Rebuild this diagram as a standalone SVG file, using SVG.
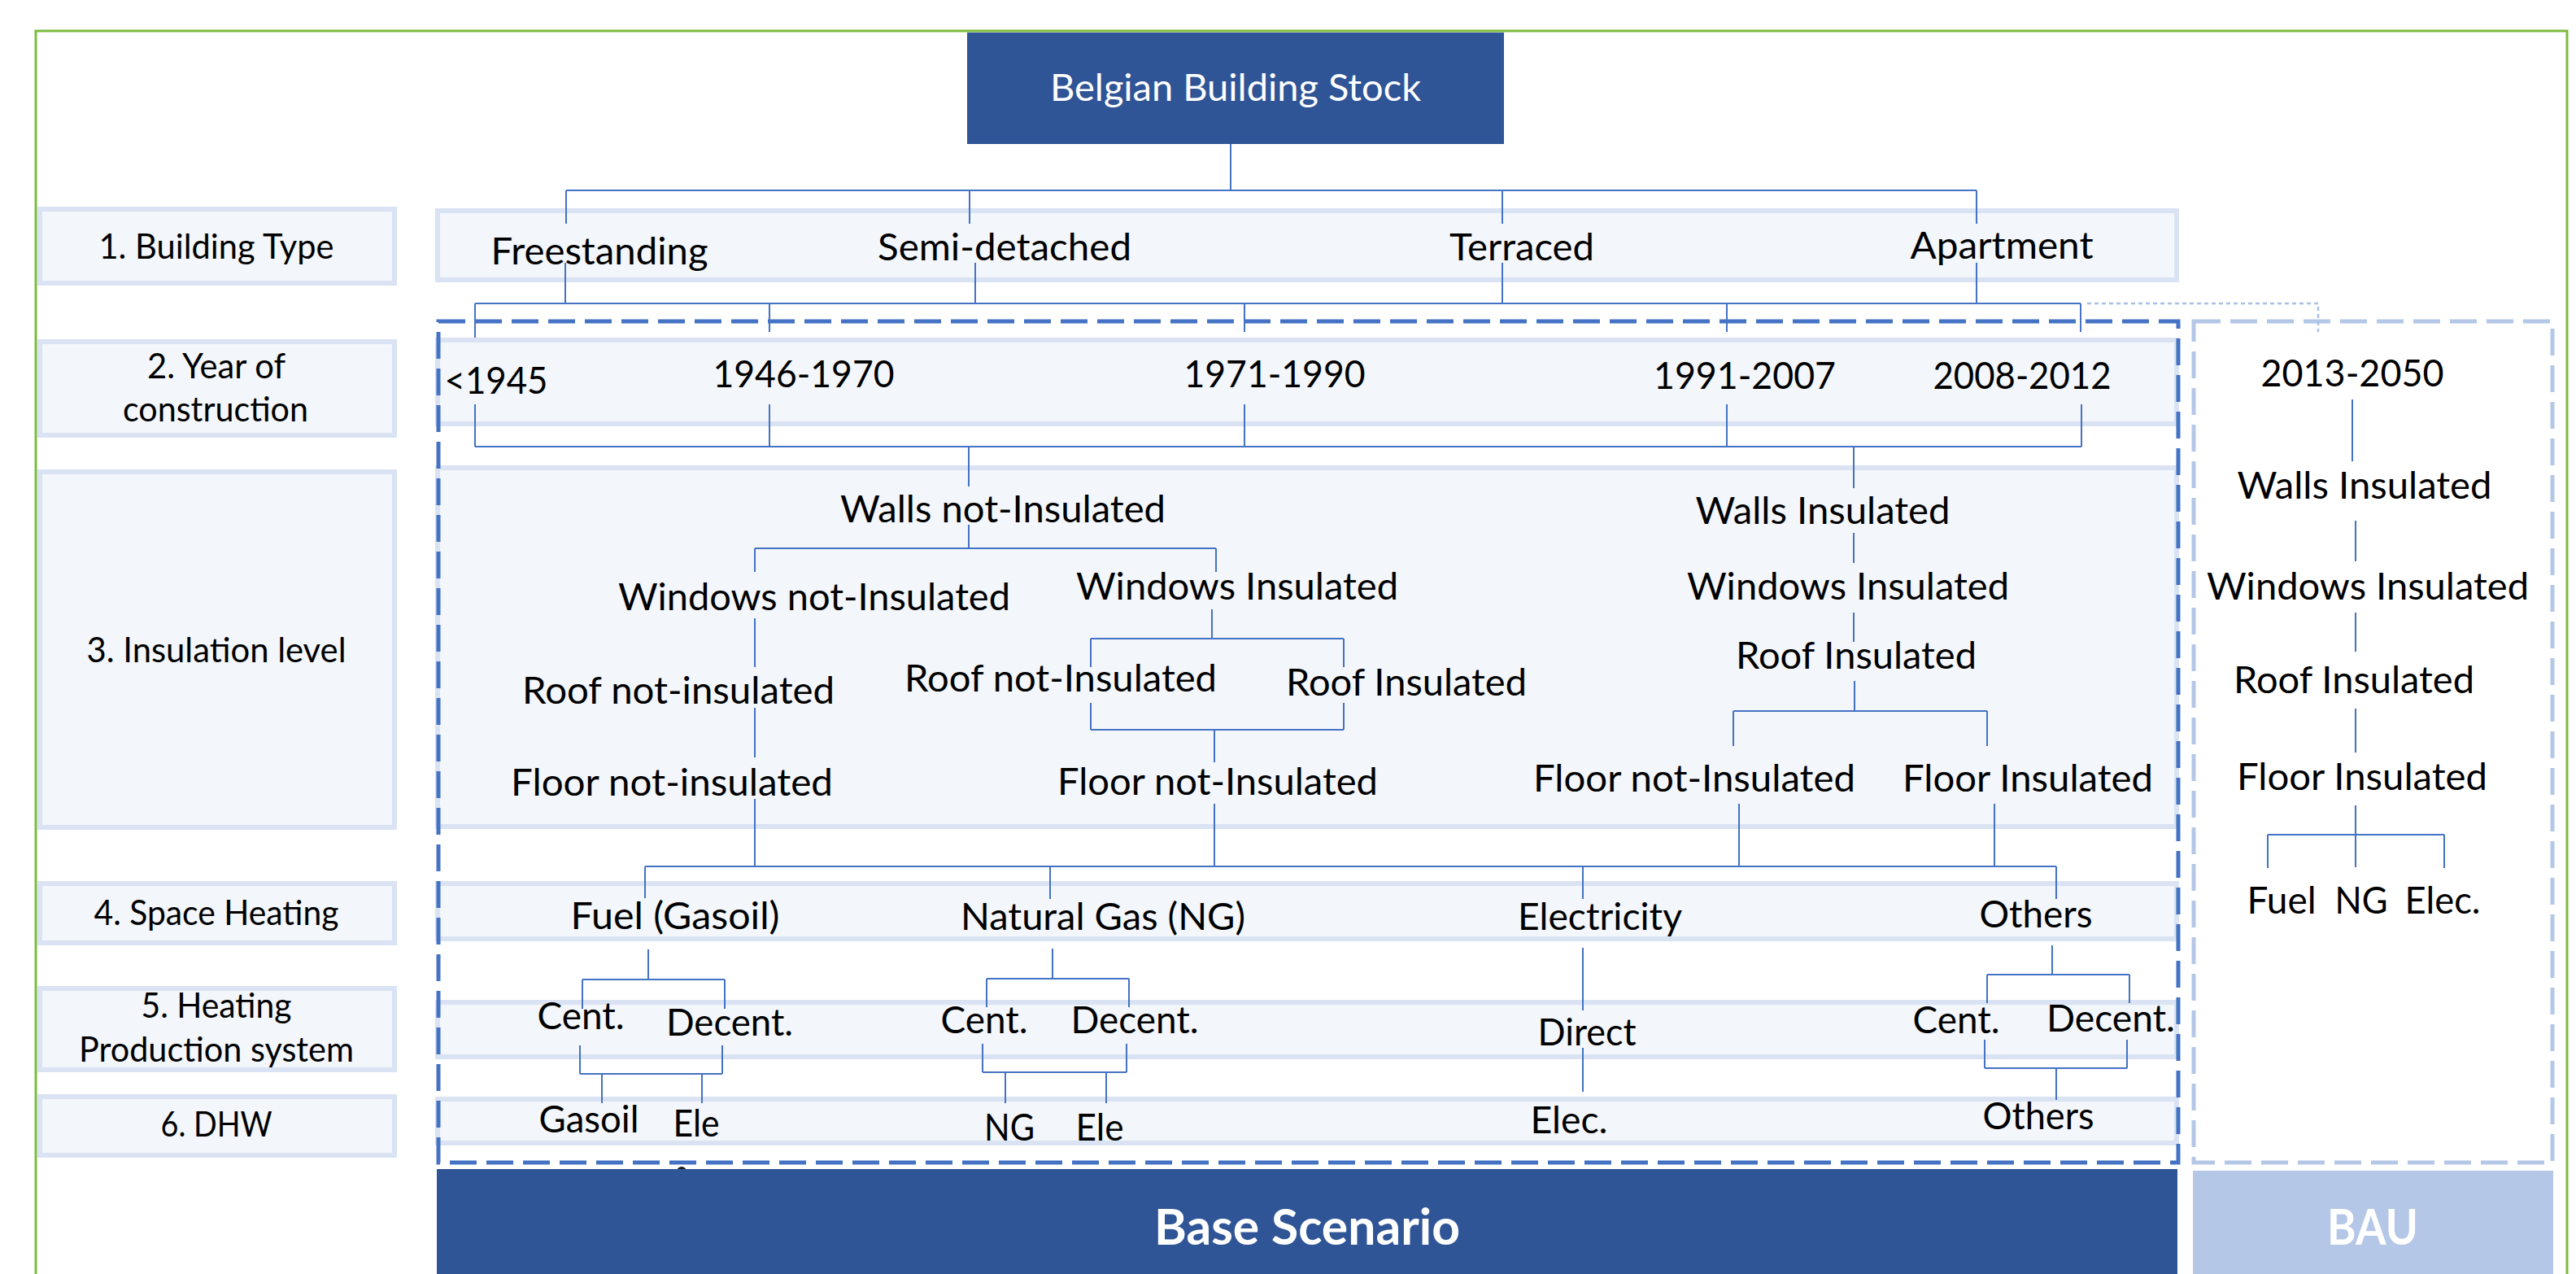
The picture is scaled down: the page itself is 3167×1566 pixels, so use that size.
<svg xmlns="http://www.w3.org/2000/svg" width="3167" height="1566" viewBox="0 0 3167 1566">
<style>
.band{fill:#f3f6fa;stroke:#dae3f3;stroke-width:6}
.c{stroke:#4472c4;stroke-width:2;fill:none}
.t{font-family:Lato,"Open Sans",sans-serif;font-size:47px;fill:#000;text-anchor:middle}
.lb{font-family:Lato,"Open Sans",sans-serif;font-size:42px;fill:#000;text-anchor:middle}
.big{font-family:Lato,"Open Sans",sans-serif;font-size:62px;font-weight:bold;fill:#fff;text-anchor:middle}
</style>
<rect x="0" y="0" width="3167" height="1566" fill="#fff"/>
<rect id="frame" x="44" y="38" width="3112" height="1600" fill="none" stroke="#7cbb3f" stroke-width="3"/>

<g id="bands">
<rect class="band" x="538" y="259" width="2138" height="85"/>
<rect class="band" x="538" y="418" width="2138" height="103"/>
<rect class="band" x="538" y="575" width="2138" height="441"/>
<rect class="band" x="538" y="1086" width="2138" height="68"/>
<rect class="band" x="538" y="1232" width="2138" height="67"/>
<rect class="band" x="538" y="1351" width="2138" height="54"/>
</g>

<g id="level-labels">
<g id="lbl1"><rect class="band" x="49" y="257" width="436" height="91"/><text class="lb" x="266" y="318" textLength="289" lengthAdjust="spacingAndGlyphs">1. Building Type</text></g>
<g id="lbl2"><rect class="band" x="49" y="420" width="436" height="115"/><text class="lb" x="266" y="465" textLength="170" lengthAdjust="spacingAndGlyphs">2. Year of</text><text class="lb" x="265" y="518" textLength="228" lengthAdjust="spacingAndGlyphs">construction</text></g>
<g id="lbl3"><rect class="band" x="49" y="580" width="436" height="437"/><text class="lb" x="266" y="814" textLength="319" lengthAdjust="spacingAndGlyphs">3. Insulation level</text></g>
<g id="lbl4"><rect class="band" x="49" y="1086" width="436" height="73"/><text class="lb" x="266" y="1137" textLength="301" lengthAdjust="spacingAndGlyphs">4. Space Heating</text></g>
<g id="lbl5"><rect class="band" x="49" y="1215" width="436" height="100"/><text class="lb" x="266" y="1251" textLength="185" lengthAdjust="spacingAndGlyphs">5. Heating</text><text class="lb" x="266" y="1305" textLength="338" lengthAdjust="spacingAndGlyphs">Production system</text></g>
<g id="lbl6"><rect class="band" x="49" y="1348" width="436" height="72"/><text class="lb" x="266" y="1397" textLength="137" lengthAdjust="spacingAndGlyphs">6. DHW</text></g>
</g>

<g id="scenario-frames">
<rect id="base-frame" x="539" y="395" width="2139" height="1034" fill="none" stroke="#4472c4" stroke-width="5" stroke-dasharray="33 12"/>
<rect id="bau-frame" x="2697" y="395" width="441" height="1034" fill="none" stroke="#b4c7e7" stroke-width="5" stroke-dasharray="33 12"/>
</g>

<g id="connectors">
<path class="c" d="M1513 177V234M696 234H2430M696 234V275M1192 234V275M1847 234V275M2430 234V275"/>
<path class="c" d="M695 323V373M1199 323V373M1847 323V373M2430 323V373M584 373H2558M584 373V415M946 373V408M1530 373V408M2123 373V408M2558 373V408"/>
<path d="M2566 373H2850V408" fill="none" stroke="#a9bfe4" stroke-width="2.5" stroke-dasharray="5 4"/>
<path class="c" d="M584 497V549M946 497V549M1530 497V549M2123 497V549M2559 497V549M584 549H2559M1191 549V598M2279 549V600M2892 491V567"/>
<path class="c" d="M1191 645V674M928 674H1495M928 674V703M1495 674V703M928 760V820M928 870V931M928 982V1065"/>
<path class="c" d="M1490 749V785M1341 785H1652M1341 785V820M1652 785V820M1341 864V897M1652 864V897M1341 897H1652M1493 897V937M1493 988V1065"/>
<path class="c" d="M2279 655V692M2279 753V789M2280 837V874M2131 874H2443M2131 874V917M2443 874V917M2138 988V1065M2452 988V1065"/>
<path class="c" d="M2896 640V690M2896 753V801M2896 871V925M2896 990V1066M2788 1026H3005M2788 1026V1067M3005 1026V1067"/>
<path class="c" d="M793 1065H2528M793 1065V1104M1291 1065V1105M1946 1065V1105M2528 1065V1105"/>
<path class="c" d="M797 1167V1204M716 1204H891M716 1204V1240M891 1204V1240M713 1285V1320M888 1285V1320M713 1320H888M740 1320V1356M863 1320V1356"/>
<path class="c" d="M1294 1166V1203M1213 1203H1388M1213 1203V1238M1388 1203V1238M1208 1283V1318M1385 1283V1318M1208 1318H1385M1236 1318V1356M1360 1318V1356"/>
<path class="c" d="M1946 1165V1242M1946 1288V1342"/>
<path class="c" d="M2523 1162V1198M2443 1198H2618M2443 1198V1233M2618 1198V1233M2440 1278V1313M2615 1278V1313M2440 1313H2615M2528 1313V1352"/>
</g>

<g id="n-root"><rect x="1189" y="40" width="660" height="137" fill="#2f5597"/><text class="t" x="1519" y="124" style="fill:#fff" textLength="456" lengthAdjust="spacingAndGlyphs">Belgian Building Stock</text></g>

<g id="building-types">
<g id="n-free"><text class="t" x="737" y="325" textLength="267" lengthAdjust="spacingAndGlyphs">Freestanding</text></g>
<g id="n-semi"><text class="t" x="1235" y="320" textLength="312" lengthAdjust="spacingAndGlyphs">Semi-detached</text></g>
<g id="n-terr"><text class="t" x="1871" y="320" textLength="178" lengthAdjust="spacingAndGlyphs">Terraced</text></g>
<g id="n-apt"><text class="t" x="2461" y="318" textLength="225" lengthAdjust="spacingAndGlyphs">Apartment</text></g>
</g>

<g id="years">
<g id="n-y1"><text class="t" x="610" y="484" textLength="127" lengthAdjust="spacingAndGlyphs">&lt;1945</text></g>
<g id="n-y2"><text class="t" x="988" y="476" textLength="223" lengthAdjust="spacingAndGlyphs">1946-1970</text></g>
<g id="n-y3"><text class="t" x="1567" y="476" textLength="223" lengthAdjust="spacingAndGlyphs">1971-1990</text></g>
<g id="n-y4"><text class="t" x="2145" y="478" textLength="224" lengthAdjust="spacingAndGlyphs">1991-2007</text></g>
<g id="n-y5"><text class="t" x="2486" y="478" textLength="219" lengthAdjust="spacingAndGlyphs">2008-2012</text></g>
<g id="n-y6"><text class="t" x="2892" y="475" textLength="225" lengthAdjust="spacingAndGlyphs">2013-2050</text></g>
</g>

<g id="insulation">
<g id="n-wallsN"><text class="t" x="1233" y="642" textLength="400" lengthAdjust="spacingAndGlyphs">Walls not-Insulated</text></g>
<g id="n-winN"><text class="t" x="1001" y="750" textLength="482" lengthAdjust="spacingAndGlyphs">Windows not-Insulated</text></g>
<g id="n-winI1"><text class="t" x="1521" y="737" textLength="396" lengthAdjust="spacingAndGlyphs">Windows Insulated</text></g>
<g id="n-roofN1"><text class="t" x="834" y="865" textLength="384" lengthAdjust="spacingAndGlyphs">Roof not-insulated</text></g>
<g id="n-roofN2"><text class="t" x="1304" y="850" textLength="384" lengthAdjust="spacingAndGlyphs">Roof not-Insulated</text></g>
<g id="n-roofI1"><text class="t" x="1729" y="855" textLength="296" lengthAdjust="spacingAndGlyphs">Roof Insulated</text></g>
<g id="n-floorN1"><text class="t" x="826" y="978" textLength="396" lengthAdjust="spacingAndGlyphs">Floor not-insulated</text></g>
<g id="n-floorN2"><text class="t" x="1497" y="977" textLength="394" lengthAdjust="spacingAndGlyphs">Floor not-Insulated</text></g>
<g id="n-wallsI"><text class="t" x="2241" y="644" textLength="313" lengthAdjust="spacingAndGlyphs">Walls Insulated</text></g>
<g id="n-winI2"><text class="t" x="2272" y="737" textLength="396" lengthAdjust="spacingAndGlyphs">Windows Insulated</text></g>
<g id="n-roofI2"><text class="t" x="2282" y="822" textLength="296" lengthAdjust="spacingAndGlyphs">Roof Insulated</text></g>
<g id="n-floorN3"><text class="t" x="2083" y="973" textLength="396" lengthAdjust="spacingAndGlyphs">Floor not-Insulated</text></g>
<g id="n-floorI"><text class="t" x="2493" y="973" textLength="308" lengthAdjust="spacingAndGlyphs">Floor Insulated</text></g>
</g>

<g id="bau-column">
<g id="n-bwalls"><text class="t" x="2907" y="613" textLength="313" lengthAdjust="spacingAndGlyphs">Walls Insulated</text></g>
<g id="n-bwin"><text class="t" x="2911" y="737" textLength="396" lengthAdjust="spacingAndGlyphs">Windows Insulated</text></g>
<g id="n-broof"><text class="t" x="2894" y="852" textLength="296" lengthAdjust="spacingAndGlyphs">Roof Insulated</text></g>
<g id="n-bfloor"><text class="t" x="2904" y="971" textLength="308" lengthAdjust="spacingAndGlyphs">Floor Insulated</text></g>
<g id="n-bfuels"><text class="t" y="1123"><tspan x="2805" textLength="85" lengthAdjust="spacingAndGlyphs">Fuel</tspan><tspan x="2903" textLength="65" lengthAdjust="spacingAndGlyphs">NG</tspan><tspan x="3003" textLength="93" lengthAdjust="spacingAndGlyphs">Elec.</tspan></text></g>
</g>

<g id="heating">
<g id="n-fuel"><text class="t" x="830" y="1142" textLength="257" lengthAdjust="spacingAndGlyphs">Fuel (Gasoil)</text></g>
<g id="n-ng"><text class="t" x="1356" y="1143" textLength="350" lengthAdjust="spacingAndGlyphs">Natural Gas (NG)</text></g>
<g id="n-elec"><text class="t" x="1967" y="1143" textLength="202" lengthAdjust="spacingAndGlyphs">Electricity</text></g>
<g id="n-oth"><text class="t" x="2503" y="1140" textLength="139" lengthAdjust="spacingAndGlyphs">Others</text></g>
</g>

<g id="production">
<g id="n-c1"><text class="t" x="714" y="1265" textLength="107" lengthAdjust="spacingAndGlyphs">Cent.</text></g>
<g id="n-d1"><text class="t" x="897" y="1273" textLength="156" lengthAdjust="spacingAndGlyphs">Decent.</text></g>
<g id="n-c2"><text class="t" x="1210" y="1270" textLength="107" lengthAdjust="spacingAndGlyphs">Cent.</text></g>
<g id="n-d2"><text class="t" x="1395" y="1270" textLength="157" lengthAdjust="spacingAndGlyphs">Decent.</text></g>
<g id="n-direct"><text class="t" x="1951" y="1285" textLength="121" lengthAdjust="spacingAndGlyphs">Direct</text></g>
<g id="n-c3"><text class="t" x="2405" y="1270" textLength="107" lengthAdjust="spacingAndGlyphs">Cent.</text></g>
<g id="n-d3"><text class="t" x="2595" y="1268" textLength="158" lengthAdjust="spacingAndGlyphs">Decent.</text></g>
</g>

<g id="dhw">
<g id="n-gasoil"><text class="t" x="724" y="1392" textLength="123" lengthAdjust="spacingAndGlyphs">Gasoil</text></g>
<g id="n-ele1"><text class="t" x="856" y="1397" textLength="57" lengthAdjust="spacingAndGlyphs">Ele</text></g>
<g id="n-ng2"><text class="t" x="1241" y="1402" textLength="62" lengthAdjust="spacingAndGlyphs">NG</text></g>
<g id="n-ele2"><text class="t" x="1352" y="1402" textLength="59" lengthAdjust="spacingAndGlyphs">Ele</text></g>
<g id="n-elec2"><text class="t" x="1929" y="1393" textLength="95" lengthAdjust="spacingAndGlyphs">Elec.</text></g>
<g id="n-oth2"><text class="t" x="2506" y="1388" textLength="137" lengthAdjust="spacingAndGlyphs">Others</text></g>
</g>

<circle cx="838" cy="1440" r="6" fill="#1a1a1a"/>
<g id="n-base"><rect x="537" y="1437" width="2140" height="140" fill="#2f5597"/><text class="big" x="1607" y="1530" textLength="376" lengthAdjust="spacingAndGlyphs">Base Scenario</text></g>
<g id="n-bau"><rect x="2696" y="1439" width="443" height="140" fill="#b4c7e7"/><text class="big" x="2917" y="1530" textLength="112" lengthAdjust="spacingAndGlyphs">BAU</text></g>
</svg>
